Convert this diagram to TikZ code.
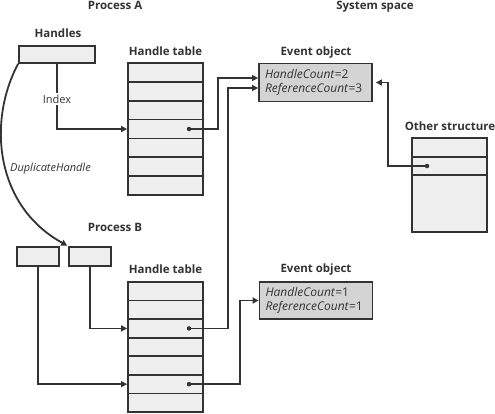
\documentclass[tikz,border=0pt]{standalone}
\usepackage{fontspec}
\setmainfont{Open Sans}
\usetikzlibrary{positioning,calc,arrows.meta}
\definecolor{LineGray}{RGB}{51,51,51}
\definecolor{TableFill}{RGB}{239,239,239}
\definecolor{ObjFill}{RGB}{212,212,212}

\begin{document}
\begin{tikzpicture}[
    x=1pt, y=-1pt,
    basebox/.style={
      rectangle, draw=LineGray, line width=1.8pt, inner sep=0pt
    },
    hbox/.style={basebox, fill=TableFill, minimum width=42pt, minimum height=19pt},
    tabrow/.style={basebox, fill=TableFill, minimum width=75pt, minimum height=#1},
    tabrow/.default=18.86pt,
    evbox/.style={basebox, fill=ObjFill, minimum width=113pt, minimum height=38pt,
      text width=101pt, inner xsep=6pt, align=left, text=LineGray,
      font=\fontsize{12}{14}\selectfont},
    title/.style={font=\fontsize{11.5}{13}\selectfont\bfseries, text=LineGray,
      anchor=base, inner sep=0pt},
    plain/.style={font=\fontsize{11}{13}\selectfont, text=LineGray},
    dot/.style={circle, fill=LineGray, inner sep=0pt, minimum size=4.5pt},
    arr/.style={-{Triangle[length=6pt, width=6pt]}, draw=LineGray, line width=1.8pt}
  ]
    \useasboundingbox (0,0) rectangle (495,413);

    % process A
    \node[title] (procA) at (115,9.5) {Process A};
    \node[title] (handlesLbl) at (58,37) {Handles};
    \node[hbox, minimum width=76pt, minimum height=17pt] (hA) at (57,54.5) {};
    \node[title] (tabALbl) at (165.5,55) {Handle table};
    \foreach \i in {1,...,7}
      \node[tabrow] (a\i) at (165.5,{63+18.86*(\i-0.5)}) {};

    % system space
    \node[title] (sys) at (375,9.5) {System space};
    \node[title] (evALbl) at (316,55) {Event object};
    \node[evbox] (evA) at (315.5,82.5)
      {\textit{HandleCount}=2\\\textit{ReferenceCount}=3};
    \node[title] (otherLbl) at (450,130) {Other structure};
    \node[tabrow=19pt] (o1) at (449.5,147.5) {};
    \node[tabrow=18pt] (o2) at (449.5,166) {};
    \node[tabrow=57pt] (o3) at (449.5,203.5) {};
    \node[title] (evBLbl) at (316,272) {Event object};
    \node[evbox, minimum height=37pt] (evB) at (316,300.5)
      {\textit{HandleCount}=1\\\textit{ReferenceCount}=1};

    % process B
    \node[title] (procB) at (115,231) {Process B};
    \node[hbox] (hB1) at (38,256.5) {};
    \node[hbox] (hB2) at (90,256.5) {};
    \node[title] (tabBLbl) at (165.5,273) {Handle table};
    \foreach \i in {1,...,7}
      \node[tabrow=18.57pt] (b\i) at (165.5,{282+18.57*(\i-0.5)}) {};

    % entries that point somewhere
    \node[dot] (pA) at ([xshift=23.5pt]a4.center) {};
    \node[dot] (pB3) at ([xshift=23.5pt]b3.center) {};
    \node[dot] (pB6) at ([xshift=23.5pt]b6.center) {};
    \node[dot] (pO) at ([xshift=-22.5pt]o2.center) {};

    \draw[arr] (hA.south) |- (a4.west)
      node[pos=0.27, fill=white, inner sep=1.5pt, plain] (idx) {Index};
    \draw[arr] (pA.center) -- ++(29,0) |- ($(evA.west)+(0,-4.5)$);
    \draw[arr] (pB3.center) -- ++(39,0) |- ($(evA.west)+(0,5.5)$);
    \draw[arr] (pB6.center) -- ++(51,0) |- (evB.west);
    \draw[arr, shorten >=3pt] (pO.center) -- ++(-39,0) |- (evA.east);
    \draw[arr] (hB2.south) |- (b3.west);
    \draw[arr] (hB1.south) |- (b6.west);

    \draw[arr, shorten >=1pt] (hA.south west)
      .. controls (-12,120) and (-6,205) .. (hB2.north west);
    \node[plain, font=\fontsize{11}{13}\selectfont\itshape, anchor=base west,
      inner sep=0pt] (dupLbl) at (10,171) {DuplicateHandle};
\end{tikzpicture}
\end{document}
